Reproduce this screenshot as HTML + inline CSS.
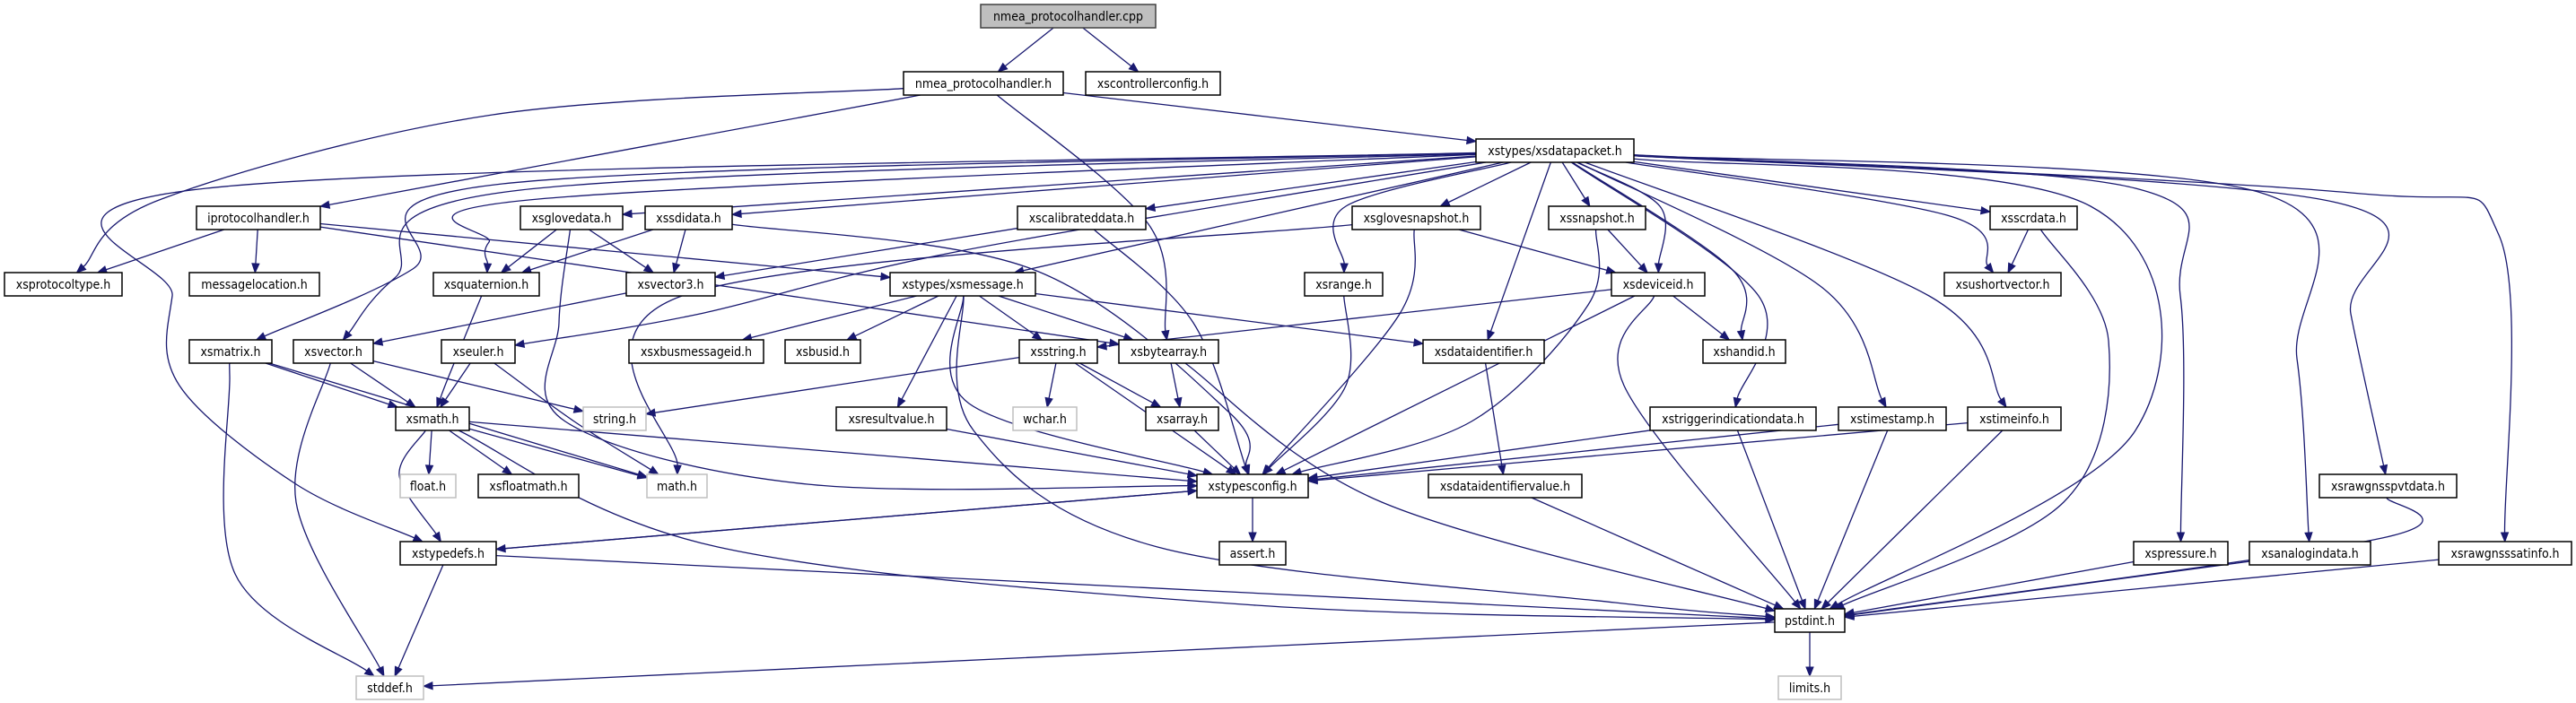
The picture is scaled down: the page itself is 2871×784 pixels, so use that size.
<!DOCTYPE html>
<html><head><meta charset="utf-8"><style>
html,body{margin:0;padding:0;background:#fff;}
svg{display:block;}
text{font-family:"DejaVu Sans Condensed","Liberation Sans",sans-serif;font-size:14px;fill:#000;}
</style></head><body>
<svg id="g" width="2871" height="784" viewBox="0 0 2871 784" xmlns="http://www.w3.org/2000/svg">
<g id="edges" stroke="#191970" stroke-width="1.3" fill="none"></g>
<g id="heads" fill="#191970" stroke="#191970"></g>
<g id="nodes" stroke-width="1.5">
<rect x="1093" y="5" width="195" height="26" fill="#bfbfbf" stroke="#404040"/><text x="1190.5" y="23" text-anchor="middle">nmea_protocolhandler.cpp</text>
<rect x="1007" y="80" width="178" height="26" fill="#fff" stroke="#000"/><text x="1096" y="98" text-anchor="middle">nmea_protocolhandler.h</text>
<rect x="1210" y="80" width="150" height="26" fill="#fff" stroke="#000"/><text x="1285" y="98" text-anchor="middle">xscontrollerconfig.h</text>
<rect x="1645" y="155" width="176" height="26" fill="#fff" stroke="#000"/><text x="1733" y="173" text-anchor="middle">xstypes/xsdatapacket.h</text>
<rect x="219" y="230" width="138" height="26" fill="#fff" stroke="#000"/><text x="288" y="248" text-anchor="middle">iprotocolhandler.h</text>
<rect x="580" y="230" width="114" height="26" fill="#fff" stroke="#000"/><text x="637" y="248" text-anchor="middle">xsglovedata.h</text>
<rect x="719" y="230" width="97" height="26" fill="#fff" stroke="#000"/><text x="767.5" y="248" text-anchor="middle">xssdidata.h</text>
<rect x="1134" y="230" width="143" height="26" fill="#fff" stroke="#000"/><text x="1205.5" y="248" text-anchor="middle">xscalibrateddata.h</text>
<rect x="1507" y="230" width="143" height="26" fill="#fff" stroke="#000"/><text x="1578.5" y="248" text-anchor="middle">xsglovesnapshot.h</text>
<rect x="1726" y="230" width="108" height="26" fill="#fff" stroke="#000"/><text x="1780" y="248" text-anchor="middle">xssnapshot.h</text>
<rect x="2218" y="230" width="97" height="26" fill="#fff" stroke="#000"/><text x="2266.5" y="248" text-anchor="middle">xsscrdata.h</text>
<rect x="5" y="304" width="131" height="26" fill="#fff" stroke="#000"/><text x="70.5" y="322" text-anchor="middle">xsprotocoltype.h</text>
<rect x="211" y="304" width="145" height="26" fill="#fff" stroke="#000"/><text x="283.5" y="322" text-anchor="middle">messagelocation.h</text>
<rect x="483" y="304" width="118" height="26" fill="#fff" stroke="#000"/><text x="542" y="322" text-anchor="middle">xsquaternion.h</text>
<rect x="698" y="304" width="99" height="26" fill="#fff" stroke="#000"/><text x="747.5" y="322" text-anchor="middle">xsvector3.h</text>
<rect x="992" y="304" width="162" height="26" fill="#fff" stroke="#000"/><text x="1073" y="322" text-anchor="middle">xstypes/xsmessage.h</text>
<rect x="1454" y="304" width="87" height="26" fill="#fff" stroke="#000"/><text x="1497.5" y="322" text-anchor="middle">xsrange.h</text>
<rect x="1796" y="304" width="104" height="26" fill="#fff" stroke="#000"/><text x="1848" y="322" text-anchor="middle">xsdeviceid.h</text>
<rect x="2167" y="304" width="130" height="26" fill="#fff" stroke="#000"/><text x="2232" y="322" text-anchor="middle">xsushortvector.h</text>
<rect x="211" y="379" width="92" height="26" fill="#fff" stroke="#000"/><text x="257" y="397" text-anchor="middle">xsmatrix.h</text>
<rect x="327" y="379" width="89" height="26" fill="#fff" stroke="#000"/><text x="371.5" y="397" text-anchor="middle">xsvector.h</text>
<rect x="492" y="379" width="82" height="26" fill="#fff" stroke="#000"/><text x="533" y="397" text-anchor="middle">xseuler.h</text>
<rect x="701" y="379" width="150" height="26" fill="#fff" stroke="#000"/><text x="776" y="397" text-anchor="middle">xsxbusmessageid.h</text>
<rect x="875" y="379" width="84" height="26" fill="#fff" stroke="#000"/><text x="917" y="397" text-anchor="middle">xsbusid.h</text>
<rect x="1136" y="379" width="87" height="26" fill="#fff" stroke="#000"/><text x="1179.5" y="397" text-anchor="middle">xsstring.h</text>
<rect x="1247" y="379" width="111" height="26" fill="#fff" stroke="#000"/><text x="1302.5" y="397" text-anchor="middle">xsbytearray.h</text>
<rect x="1586" y="379" width="135" height="26" fill="#fff" stroke="#000"/><text x="1653.5" y="397" text-anchor="middle">xsdataidentifier.h</text>
<rect x="1898" y="379" width="92" height="26" fill="#fff" stroke="#000"/><text x="1944" y="397" text-anchor="middle">xshandid.h</text>
<rect x="441" y="454" width="82" height="26" fill="#fff" stroke="#000"/><text x="482" y="472" text-anchor="middle">xsmath.h</text>
<rect x="650" y="454" width="70" height="26" fill="#fff" stroke="#bfbfbf"/><text x="685" y="472" text-anchor="middle">string.h</text>
<rect x="932" y="454" width="123" height="26" fill="#fff" stroke="#000"/><text x="993.5" y="472" text-anchor="middle">xsresultvalue.h</text>
<rect x="1129" y="454" width="71" height="26" fill="#fff" stroke="#bfbfbf"/><text x="1164.5" y="472" text-anchor="middle">wchar.h</text>
<rect x="1277" y="454" width="81" height="26" fill="#fff" stroke="#000"/><text x="1317.5" y="472" text-anchor="middle">xsarray.h</text>
<rect x="1839" y="454" width="185" height="26" fill="#fff" stroke="#000"/><text x="1931.5" y="472" text-anchor="middle">xstriggerindicationdata.h</text>
<rect x="2049" y="454" width="120" height="26" fill="#fff" stroke="#000"/><text x="2109" y="472" text-anchor="middle">xstimestamp.h</text>
<rect x="2193" y="454" width="104" height="26" fill="#fff" stroke="#000"/><text x="2245" y="472" text-anchor="middle">xstimeinfo.h</text>
<rect x="446" y="529" width="62" height="26" fill="#fff" stroke="#bfbfbf"/><text x="477" y="547" text-anchor="middle">float.h</text>
<rect x="533" y="529" width="112" height="26" fill="#fff" stroke="#000"/><text x="589" y="547" text-anchor="middle">xsfloatmath.h</text>
<rect x="721" y="529" width="67" height="26" fill="#fff" stroke="#bfbfbf"/><text x="754.5" y="547" text-anchor="middle">math.h</text>
<rect x="1334" y="529" width="124" height="26" fill="#fff" stroke="#000"/><text x="1396" y="547" text-anchor="middle">xstypesconfig.h</text>
<rect x="1592" y="529" width="171" height="26" fill="#fff" stroke="#000"/><text x="1677.5" y="547" text-anchor="middle">xsdataidentifiervalue.h</text>
<rect x="2585" y="529" width="153" height="26" fill="#fff" stroke="#000"/><text x="2661.5" y="547" text-anchor="middle">xsrawgnsspvtdata.h</text>
<rect x="446" y="604" width="107" height="26" fill="#fff" stroke="#000"/><text x="499.5" y="622" text-anchor="middle">xstypedefs.h</text>
<rect x="1359" y="604" width="74" height="26" fill="#fff" stroke="#000"/><text x="1396" y="622" text-anchor="middle">assert.h</text>
<rect x="2378" y="604" width="105" height="26" fill="#fff" stroke="#000"/><text x="2430.5" y="622" text-anchor="middle">xspressure.h</text>
<rect x="2507" y="604" width="135" height="26" fill="#fff" stroke="#000"/><text x="2574.5" y="622" text-anchor="middle">xsanalogindata.h</text>
<rect x="2718" y="604" width="148" height="26" fill="#fff" stroke="#000"/><text x="2792" y="622" text-anchor="middle">xsrawgnsssatinfo.h</text>
<rect x="1978" y="679" width="78" height="26" fill="#fff" stroke="#000"/><text x="2017" y="697" text-anchor="middle">pstdint.h</text>
<rect x="397" y="754" width="75" height="26" fill="#fff" stroke="#bfbfbf"/><text x="434.5" y="772" text-anchor="middle">stddef.h</text>
<rect x="1982" y="754" width="70" height="26" fill="#fff" stroke="#bfbfbf"/><text x="2017" y="772" text-anchor="middle">limits.h</text>
</g>
</svg>
<script>
var N={cpp:[1093,1288,0],nmea:[1007,1185,1],ctrl:[1210,1360,1],dp:[1645,1821,2],iph:[219,357,3],gd:[580,694,3],sdi:[719,816,3],cal:[1134,1277,3],gs:[1507,1650,3],snap:[1726,1834,3],scr:[2218,2315,3],pt:[5,136,4],ml:[211,356,4],quat:[483,601,4],v3:[698,797,4],msg:[992,1154,4],range:[1454,1541,4],did:[1796,1900,4],usv:[2167,2297,4],mat:[211,303,5],vec:[327,416,5],eul:[492,574,5],xbm:[701,851,5],bus:[875,959,5],str:[1136,1223,5],ba:[1247,1358,5],dident:[1586,1721,5],hand:[1898,1990,5],math:[441,523,6],string:[650,720,6],rv:[932,1055,6],wchar:[1129,1200,6],arr:[1277,1358,6],trig:[1839,2024,6],ts:[2049,2169,6],ti:[2193,2297,6],float:[446,508,7],fm:[533,645,7],mathh:[721,788,7],cfg:[1334,1458,7],divh:[1592,1763,7],pvt:[2585,2738,7],tdef:[446,553,8],assert:[1359,1433,8],pres:[2378,2483,8],ana:[2507,2642,8],sat:[2718,2866,8],pst:[1978,2056,9],stddef:[397,472,10],limits:[1982,2052,10]};
var RY=[5,80,155,230,304,379,454,529,604,679,754];
var E=[
["cpp","nmea"],["cpp","ctrl"],
["nmea","pt",[[549,128],[180,222]]],["nmea","iph"],["nmea","ba",[[1280,250]]],["nmea","dp"],
["iph","pt"],["iph","ml"],["iph","msg"],["iph","ba"],
["dp","tdef",[[230,210],[192,330],[200,430],[330,540]]],["dp","mat",[[560,205],[460,300]]],["dp","vec",[[580,212],[440,310]]],
["dp","quat",[[600,222],[545,270]]],["dp","gd"],["dp","sdi"],["dp","eul",[[1070,280],[780,350]]],["dp","cal"],["dp","gs"],["dp","snap"],
["dp","range",[[1500,230]]],["dp","did",[[1850,230]]],["dp","dident"],["dp","hand",[[1930,300]]],["dp","msg"],
["dp","trig",[[1960,330]]],["dp","ts",[[2030,320]]],["dp","ti",[[2150,330]]],["dp","scr"],["dp","usv",[[2170,240]]],
["dp","pst",[[2330,230],[2380,480]]],["dp","pres",[[2380,210],[2430,330]]],["dp","ana",[[2520,215],[2560,400]]],
["dp","pvt",[[2600,225],[2620,350]]],["dp","sat",[[2620,215],[2785,262]]],
["gd","quat"],["gd","v3"],["gd","cfg",[[623,360],[630,470],[900,540]]],
["sdi","quat"],["sdi","v3"],["sdi","cfg",[[1150,300],[1370,460]]],
["cal","v3"],["cal","cfg",[[1330,360]]],
["gs","did"],["gs","cfg",[[1560,350]]],["gs","mathh",[[760,330]]],
["snap","did"],["snap","cfg",[[1770,340],[1640,470]]],["range","cfg",[[1500,430]]],
["did","str"],["did","hand"],["did","cfg"],["did","pst",[[1810,430]]],
["quat","math",[[500,420]]],["v3","vec"],
["msg","xbm"],["msg","bus"],["msg","rv"],["msg","str"],["msg","ba"],["msg","dident"],["msg","cfg",[[1080,450]]],["msg","pst",[[1085,480],[1290,610],[1800,672]]],
["dident","divh"],["divh","pst"],
["str","string"],["str","wchar"],["str","arr"],["str","cfg"],["ba","arr"],["ba","pst",[[1540,560]]],["arr","cfg"],["rv","cfg"],
["mat","math"],["mat","mathh"],["mat","stddef",[[256,420],[262,640]]],
["vec","math"],["vec","string"],["vec","stddef",[[330,560]]],
["eul","math"],["eul","mathh",[[640,470]]],
["math","float"],["math","fm"],["math","mathh"],["math","tdef",[[445,530]]],["math","cfg"],["math","pst",[[800,610],[1400,675]]],
["tdef","cfg"],["cfg","tdef"],["tdef","pst"],["tdef","stddef"],["cfg","assert"],["pst","limits"],["pst","stddef"],
["scr","usv"],["scr","pst",[[2350,380],[2300,560]]],
["trig","cfg"],["trig","pst"],["ts","cfg"],["ts","pst"],["ti","cfg"],["ti","pst"],
["pres","pst"],["ana","pst"],["pvt","pst",[[2655,600]]],["sat","pst"]
];
function B(k){var n=N[k];var y=RY[n[2]];return{cx:(n[0]+n[1])/2,cy:y+13,hw:(n[1]-n[0])/2,hh:13};}
function clip(b,dx,dy){var t=Math.min(dx?b.hw/Math.abs(dx):1e9,dy?b.hh/Math.abs(dy):1e9);return[b.cx+dx*t,b.cy+dy*t];}
var eg=document.getElementById('edges'),hg=document.getElementById('heads'),ns="http://www.w3.org/2000/svg";
E.forEach(function(e){var a=B(e[0]),b=B(e[1]),w=e[2]||[];
var f=w.length?w[0]:[b.cx,b.cy],l=w.length?w[w.length-1]:[a.cx,a.cy];
var p0=clip(a,f[0]-a.cx,f[1]-a.cy),p1=clip(b,l[0]-b.cx,l[1]-b.cy);
var ux=p1[0]-l[0],uy=p1[1]-l[1];if(!w.length){ux=p1[0]-p0[0];uy=p1[1]-p0[1];}
var L=Math.sqrt(ux*ux+uy*uy)||1;ux/=L;uy/=L;
var ex=p1[0]-ux*10,ey=p1[1]-uy*10;
var P=[p0].concat(w).concat([[ex,ey]]);
var d="M"+P[0][0]+","+P[0][1];
for(var i=0;i<P.length-1;i++){var p_=P[i-1]||P[i],q=P[i],r=P[i+1],s=P[i+2]||r;
d+="C"+(q[0]+(r[0]-p_[0])/6)+","+(q[1]+(r[1]-p_[1])/6)+" "+(r[0]-(s[0]-q[0])/6)+","+(r[1]-(s[1]-q[1])/6)+" "+r[0]+","+r[1];}
var pe=document.createElementNS(ns,"path");pe.setAttribute("d",d);eg.appendChild(pe);
var px=-uy,py=ux;var t=document.createElementNS(ns,"polygon");
t.setAttribute("points",p1[0]+","+p1[1]+" "+(ex+px*4)+","+(ey+py*4)+" "+(ex-px*4)+","+(ey-py*4));hg.appendChild(t);});
</script>
</body></html>
